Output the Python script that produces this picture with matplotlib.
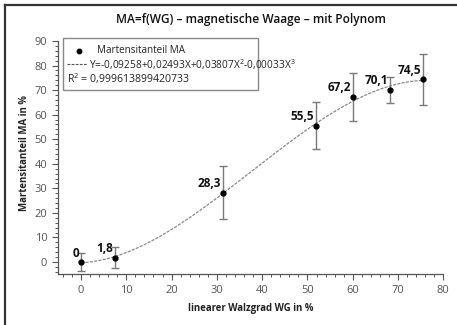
import numpy as np
import matplotlib
matplotlib.use("Agg")
import matplotlib.pyplot as plt
from matplotlib.ticker import MultipleLocator
from matplotlib.lines import Line2D
from matplotlib.patches import Rectangle

# Measured martensite fraction vs. linear rolling degree
walzgrad = [0.0, 7.6, 31.3, 51.9, 60.0, 68.2, 75.5]
martensit = [0.0, 1.8, 28.3, 55.5, 67.2, 70.1, 74.5]
fehler = [3.6, 4.3, 10.9, 9.5, 9.7, 5.3, 10.4]
wert_labels = ["0", "1,8", "28,3", "55,5", "67,2", "70,1", "74,5"]

titel = "MA=f(WG) – magnetische Waage – mit Polynom"
legende_punkte = "Martensitanteil MA"
legende_fit = "Y=-0,09258+0,02493X+0,03807X$^2$-0,00033X$^3$"
legende_r2 = "R$^2$ = 0,999613899420733"

FONT = "Open Sans"
plt.rcParams["font.family"] = [FONT, "DejaVu Sans"]
plt.rcParams["mathtext.fontset"] = "custom"
plt.rcParams["mathtext.rm"] = FONT

fig = plt.figure(figsize=(4.57, 3.25), dpi=100)
fig.patch.set_facecolor("white")
W, H = 457, 325
ax = fig.add_axes([58.4 / W, 1 - 274.3 / H, (443.3 - 58.4) / W, (274.3 - 41) / H])

# frame lines along top and left of the figure
fig.add_artist(Line2D([5 / W, 5 / W], [0, 1 - 4.5 / H], transform=fig.transFigure,
                      color="#333333", lw=1.6))
fig.add_artist(Line2D([5 / W, 1], [1 - 4.5 / H, 1 - 4.5 / H], transform=fig.transFigure,
                      color="#333333", lw=1.6))

# cubic regression through the measured points
koeff = np.polyfit(walzgrad, martensit, 3)
xs = np.linspace(walzgrad[0], walzgrad[-1], 300)
ax.plot(xs, np.polyval(koeff, xs), color="#8a8a8a", lw=0.9,
        linestyle=(0, (2.5, 1.0)), zorder=2)

ax.errorbar(walzgrad, martensit, yerr=fehler, fmt="none", ecolor="#7a7a7a",
            elinewidth=1.0, capsize=2.8, capthick=1.0, zorder=3)
ax.plot(walzgrad, martensit, "o", color="black", markersize=3.5, zorder=4)

for xv, yv, txt in zip(walzgrad, martensit, wert_labels):
    ax.annotate(txt, (xv, yv), xytext=(-2, 9), textcoords="offset pixels",
                ha="right", va="center", fontsize=8.5, fontweight="bold",
                color="#111111", zorder=5)

ax.set_xlim(-5, 80)
ax.set_ylim(-5, 90)
ax.xaxis.set_major_locator(MultipleLocator(10))
ax.xaxis.set_minor_locator(MultipleLocator(2))
ax.yaxis.set_major_locator(MultipleLocator(10))
ax.yaxis.set_minor_locator(MultipleLocator(2))
ax.set_xticks(np.arange(0, 81, 10))
ax.set_yticks(np.arange(0, 91, 10))

for s in ("top", "right"):
    ax.spines[s].set_visible(False)
for s in ("left", "bottom"):
    ax.spines[s].set_color("#555555")
    ax.spines[s].set_linewidth(0.9)

ax.tick_params(which="major", direction="out", length=4, width=0.8,
               color="#555555", labelcolor="#555555", labelsize=8, pad=4)
ax.tick_params(which="minor", direction="out", length=2, width=0.7, color="#555555")

ax.set_xlabel("linearer Walzgrad WG in %", fontsize=6.9, fontweight="bold",
              color="#222222", labelpad=5)
ax.set_ylabel("Martensitanteil MA in %", fontsize=6.9, fontweight="bold",
              color="#222222", labelpad=5)
ax.yaxis.set_label_coords(-0.075, 0.52)
ax.set_title(titel, fontsize=8.6, fontweight="semibold", color="#111111", pad=13)

# legend box with two keyed entries and the coefficient of determination
tr = ax.transAxes
def ax_x(px):
    return (px - 58.4) / (443.3 - 58.4)
def ax_y(py):
    return (274.3 - py) / (274.3 - 41)

box = Rectangle((ax_x(62.5), ax_y(89.5)), ax_x(257.5) - ax_x(62.5), ax_y(37.5) - ax_y(89.5),
                transform=tr, facecolor="white", edgecolor="#888888", lw=1.0,
                clip_on=False, zorder=6)
ax.add_patch(box)
ax.add_line(Line2D([ax_x(79.3)], [ax_y(50.5)], marker="o", color="black",
                   markersize=3.2, transform=tr, clip_on=False, zorder=7))
ax.add_line(Line2D([ax_x(67.3), ax_x(86.7)], [ax_y(64.3), ax_y(64.3)], color="#555555",
                   lw=0.8, linestyle=(0, (2.5, 1.2)), transform=tr, clip_on=False, zorder=7))
ax.text(ax_x(97.3), ax_y(50.5), legende_punkte, transform=tr, fontsize=7.1,
        va="center", ha="left", color="#222222", zorder=7)
ax.text(ax_x(89.3), ax_y(64.3), legende_fit, transform=tr, fontsize=7.3,
        va="center", ha="left", color="#222222", zorder=7)
ax.text(ax_x(66.7), ax_y(78.7), legende_r2, transform=tr, fontsize=7.6,
        va="center", ha="left", color="#222222", zorder=7)

fig.savefig("out.png", dpi=100)
